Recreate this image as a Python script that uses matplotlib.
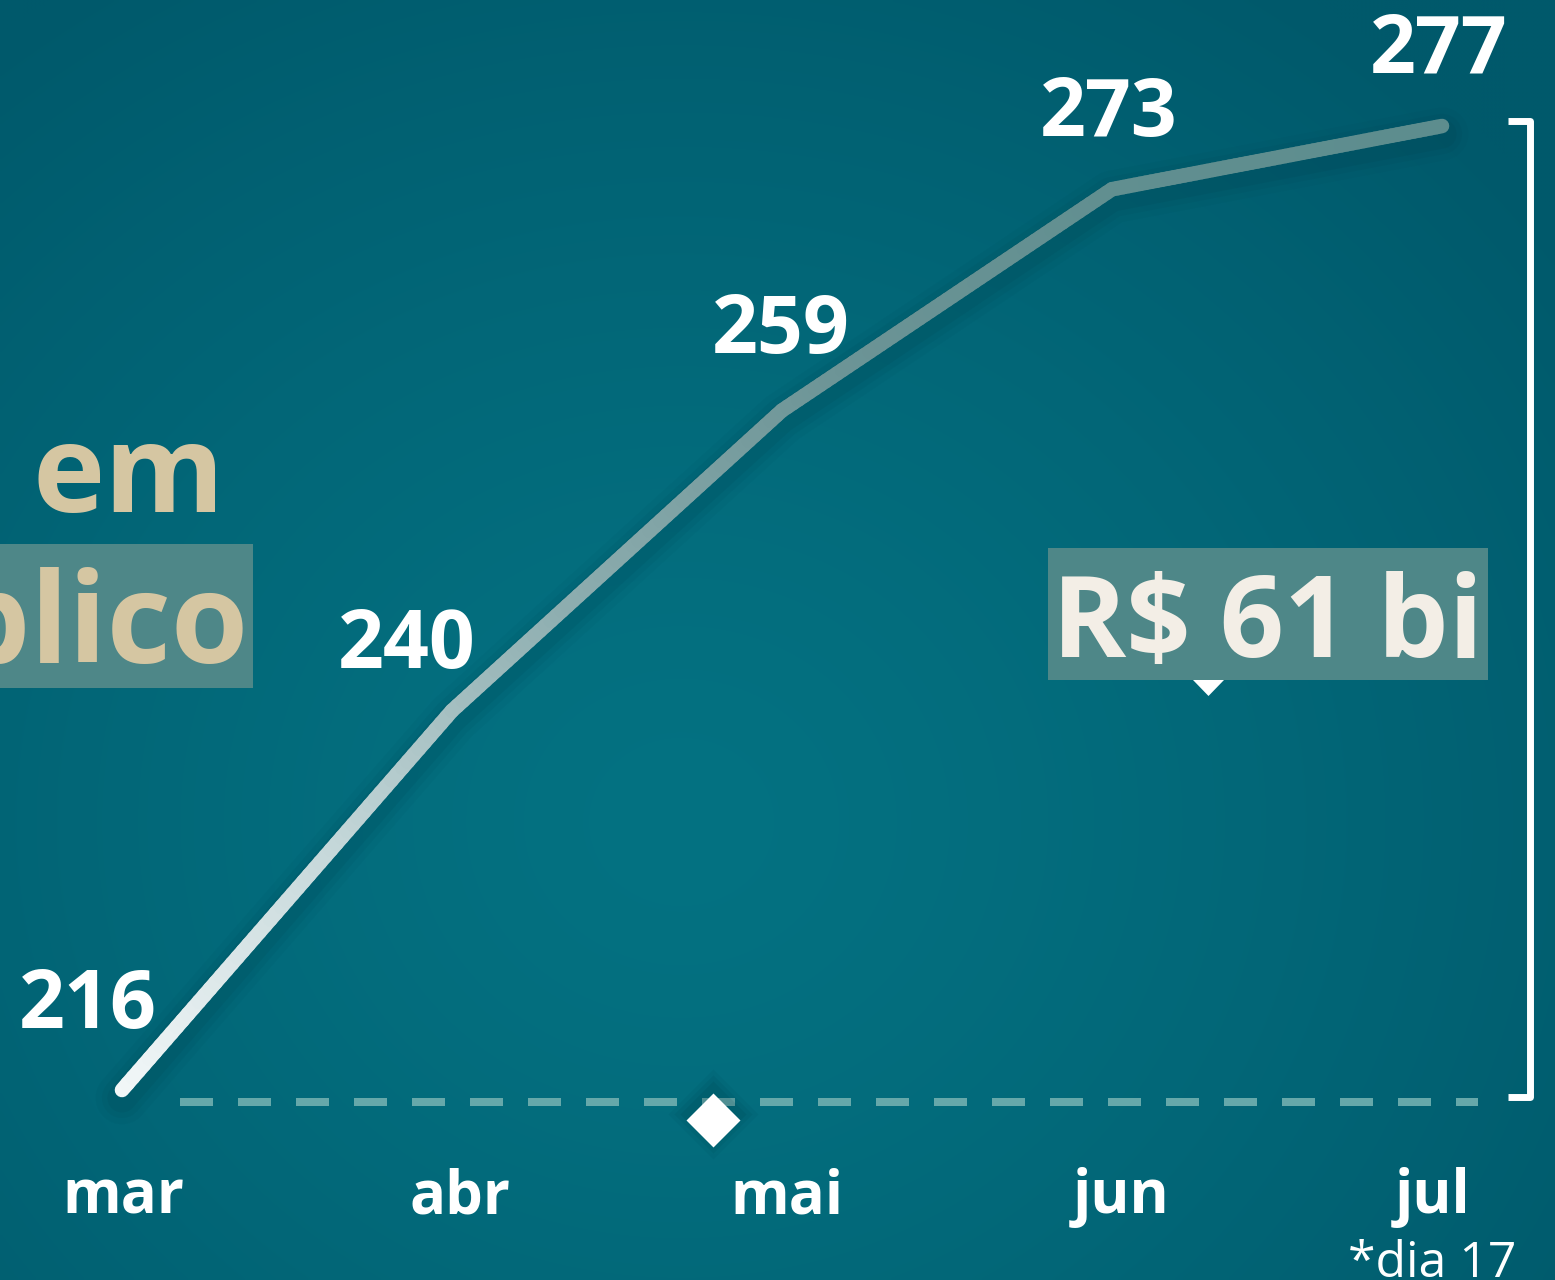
import numpy as np
import matplotlib
matplotlib.use("Agg")
import matplotlib.pyplot as plt
from matplotlib.colors import LinearSegmentedColormap, to_rgb
from matplotlib.patches import Rectangle, Polygon

# ---- data ----
months = ["mar", "abr", "mai", "jun", "jul"]
values = [216, 240, 259, 273, 277]
value_labels = ["216", "240", "259", "273", "277"]
diff_label = "R$ 61 bi"
note_label = "*dia 17"
side_words = ["em", "público"]

W, H = 1555, 1280
fig = plt.figure(figsize=(W / 100, H / 100), dpi=100)
ax = fig.add_axes([0, 0, 1, 1])
ax.set_axis_off()

# pixel <-> data mapping so the layout matches
x0px, dx = 122, 330
y0px, ppu = 1090, 15.803
xlim = (-x0px / dx, (W - x0px) / dx)
ylim = (values[0] - (H - y0px) / ppu, values[0] + y0px / ppu)
ax.set_xlim(*xlim)
ax.set_ylim(*ylim)

def fx(px):
    return px / W

def fy(py):
    return 1 - py / H

# ---- background radial gradient ----
yy, xx = np.mgrid[0:H:4, 0:W:4]
cx, cy = 680, 820
r = np.sqrt(((xx - cx) / 1100) ** 2 + ((yy - cy) / 1000) ** 2)
r = np.clip(r, 0, 1)
c_in = np.array(to_rgb("#047282"))
c_out = np.array(to_rgb("#00596b"))
img = c_in[None, None, :] * (1 - r[..., None] ** 1.3) + c_out[None, None, :] * (r[..., None] ** 1.3)
ax.imshow(img, extent=[xlim[0], xlim[1], ylim[0], ylim[1]], aspect="auto",
          origin="upper", zorder=0, interpolation="bilinear")

xs = np.arange(len(values))

# ---- dashed baseline ----
base_val = values[0] - 12 / ppu
bl, = ax.plot([(180 - x0px) / dx, (1478 - x0px) / dx], [base_val, base_val],
              color="#66a8aa", lw=5.76, solid_capstyle="butt", zorder=2)
bl.set_dashes([4.125, 3.125])
bl.set_dash_capstyle("butt")

# ---- diamond marker ----
dia_x, dia_y = (713 - x0px) / dx, values[0] - 30 / ppu
for k, a in [(46, 0.05), (40, 0.07), (34, 0.09)]:
    ax.plot([dia_x], [dia_y + 0.4], marker="D", ms=k, color="#00303c", alpha=a,
            mec="none", zorder=3)
ax.plot([dia_x], [dia_y], marker="D", ms=28, color="white", mec="none", zorder=4)

# ---- line shadow ----
for lw, a in [(38, 0.04), (29, 0.06), (21, 0.08)]:
    ax.plot(xs, np.array(values) - 0.5, color="#00303c", lw=lw, alpha=a,
            solid_capstyle="round", solid_joinstyle="round", zorder=3)

# ---- gradient line ----
cmap = LinearSegmentedColormap.from_list(
    "ln", ["#f2f7f8", "#c6d8da", "#8eaeb0", "#6c9496", "#5d8d8e"])
fine_x = []
fine_y = []
for i in range(len(values) - 1):
    t = np.linspace(0, 1, 60, endpoint=(i == len(values) - 2))
    fine_x.extend(xs[i] + t)
    fine_y.extend(values[i] + (values[i + 1] - values[i]) * t)
fine_x = np.array(fine_x)
fine_y = np.array(fine_y)
vmin, vmax = min(values), max(values)
for j in range(len(fine_x) - 1):
    c = cmap(((fine_y[j] + fine_y[j + 1]) / 2 - vmin) / (vmax - vmin))
    ax.plot(fine_x[j:j + 2], fine_y[j:j + 2], color=c, lw=10.5,
            solid_capstyle="round", zorder=5)

# ---- value labels (baseline offsets in px) ----
offsets = [(-34, 62), (-45, 43), (-1, 57), (-3, 53), (-3, 54)]
for xi, v, lab, (ox, oy) in zip(xs, values, value_labels, offsets):
    ax.annotate(lab, (xi, v), xytext=(ox * 0.72, oy * 0.72), textcoords="offset points",
                ha="center", va="baseline", fontsize=58, fontweight="bold",
                color="white", family="Open Sans", zorder=6)

# ---- month labels ----
month_shift_px = [1, 8, 5, 9, -9]
for xi, m, sh in zip(xs, months, month_shift_px):
    ax.text(xi + sh / dx, fy(1213), m, transform=ax.get_xaxis_transform(), ha="center",
            va="baseline", fontsize=43, fontweight="bold", color="white",
            family="Open Sans", zorder=6)

# ---- bracket ----
bx1, bx2 = (1508 - x0px) / dx, (1530 - x0px) / dx
btop = values[0] + (1090 - 121) / ppu
bbot = values[0] - (1097 - 1090) / ppu
ax.plot([bx1, bx2, bx2, bx1], [btop, btop, bbot, bbot], color="white", lw=5,
        solid_joinstyle="round", solid_capstyle="butt", zorder=5)

# ---- R$ 61 bi box ----
fig.patches.append(Polygon([[fx(1193), fy(680)], [fx(1224), fy(680)], [fx(1208.5), fy(696)]],
                           closed=True, transform=fig.transFigure, fc="white", ec="none", zorder=5))
fig.patches.append(Rectangle((fx(1048), fy(680)), fx(440), 132 / H, transform=fig.transFigure,
                             fc="#4e8788", ec="none", zorder=6))
fig.text(fx(1268), fy(657), diff_label, ha="center", va="baseline", fontsize=81,
         fontweight="bold", color="#f3eee6", family="Open Sans", zorder=7)

# ---- left side words ----
fig.text(fx(129), fy(512), side_words[0], ha="center", va="baseline", fontsize=88,
         fontweight="bold", color="#d5c6a2", family="Open Sans", zorder=7)
fig.patches.append(Rectangle((0, fy(688)), fx(253), 144 / H, transform=fig.transFigure,
                             fc="#4e8788", ec="none", zorder=6))
fig.text(fx(249), fy(663), side_words[1], ha="right", va="baseline", fontsize=90,
         fontweight="bold", color="#d5c6a2", family="Open Sans", zorder=7)

# ---- note ----
fig.text(fx(1516), fy(1277), note_label, ha="right", va="baseline", fontsize=36,
         color="white", family="Open Sans", zorder=7)

fig.savefig("out.png", dpi=100)
